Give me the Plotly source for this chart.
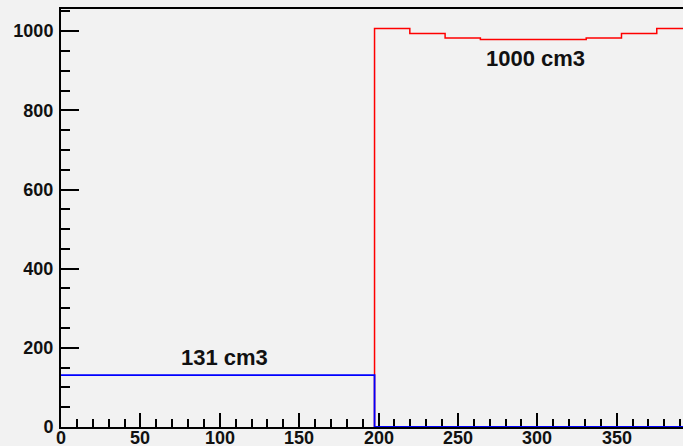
import plotly.graph_objects as go

# 18 bins of width 400/18, starting at -2.5
n_bins = 18
x_lo, x_hi = -2.5, 397.5
edges = [x_lo + i * (x_hi - x_lo) / n_bins for i in range(n_bins + 1)]

blue_vals = [131] * 9 + [0] * 9
red_vals = [1007, 994, 983, 979, 979, 979, 983, 994, 1007]  # bins 9..17

label_small = "131 cm3"
label_big = "1000 cm3"

x_ticks = [0, 50, 100, 150, 200, 250, 300, 350]
y_ticks = [0, 200, 400, 600, 800, 1000]

fig = go.Figure()

# red histogram (upper bins)
fig.add_trace(go.Scatter(x=[edges[9]] + edges[9:], y=[0] + red_vals + [red_vals[-1]],
                         mode="lines", line=dict(color="#ff0000", width=1.5, shape="hv"),
                         hoverinfo="skip", showlegend=False))

# blue histogram
fig.add_trace(go.Scatter(x=edges, y=blue_vals + [blue_vals[-1]],
                         mode="lines", line=dict(color="#0000ff", width=1.8, shape="hv"),
                         hoverinfo="skip", showlegend=False))

fam = "Liberation Sans, Arial, sans-serif"
font_tick = dict(family=fam, size=18, color="#111111", weight="bold")
font_ann = dict(family=fam, size=22, color="#111111", weight="bold")

fig.add_annotation(x=103, y=175, xref="x", yref="y", text=label_small, showarrow=False, font=font_ann)
fig.add_annotation(x=299, y=932, xref="x", yref="y", text=label_big, showarrow=False, font=font_ann)

# x tick labels placed close under the axis (as in the reference)
for v in x_ticks:
    fig.add_annotation(x=v, y=0, xref="x", yref="paper", text=str(v), showarrow=False,
                       yanchor="top", xanchor="center", yshift=1, font=font_tick)

fig.update_layout(
    width=683, height=446,
    margin=dict(l=61, r=0, t=9, b=19, autoexpand=False),
    paper_bgcolor="#f2f2f2", plot_bgcolor="#f2f2f2",
    showlegend=False,
    xaxis=dict(range=[0, 391.8], tickvals=x_ticks, showticklabels=False,
               ticks="inside", ticklen=14, tickwidth=1.5, tickcolor="black",
               minor=dict(dtick=10, tick0=0, ticks="inside", ticklen=8, tickwidth=1.5, tickcolor="black", showgrid=False),
               showline=True, linecolor="black", linewidth=2, mirror=True, automargin=False,
               layer="below traces",
               showgrid=False, zeroline=False),
    yaxis=dict(range=[0, 1056], tickvals=y_ticks, ticktext=[str(v) for v in y_ticks],
               ticks="inside", ticklen=18, tickwidth=1.5, tickcolor="black",
               minor=dict(dtick=50, tick0=0, ticks="inside", ticklen=9, tickwidth=1.5, tickcolor="black", showgrid=False),
               showline=True, linecolor="black", linewidth=2, mirror=True, automargin=False,
               layer="below traces",
               showgrid=False, zeroline=False, tickfont=font_tick, ticklabelstandoff=2),
)

fig.write_html("out.html")
